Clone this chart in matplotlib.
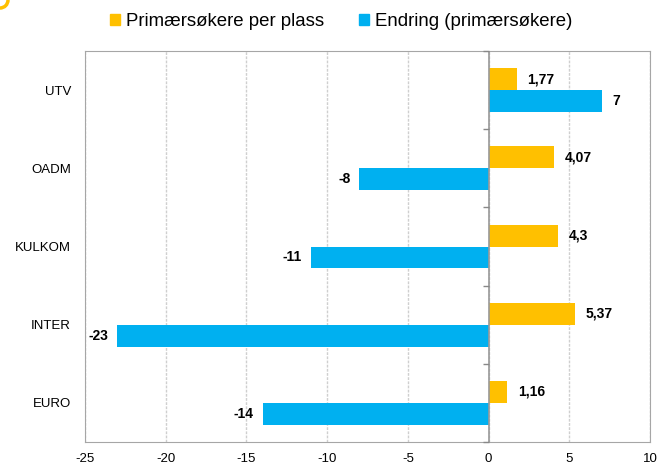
import numpy as np
import matplotlib
matplotlib.use("Agg")
import matplotlib.pyplot as plt
from matplotlib.patches import Circle

plt.rcParams['font.family'] = ['Liberation Sans', 'DejaVu Sans']

# Data (top to bottom)
categories = ["UTV", "OADM", "KULKOM", "INTER", "EURO"]
per_plass = [1.77, 4.07, 4.3, 5.37, 1.16]
endring = [7, -8, -11, -23, -14]
per_plass_labels = ["1,77", "4,07", "4,3", "5,37", "1,16"]
endring_labels = ["7", "-8", "-11", "-23", "-14"]
xticks = [-25, -20, -15, -10, -5, 0, 5, 10]

gold = "#FFC000"
blue = "#00B0F0"

fig = plt.figure(figsize=(6.61, 4.68), dpi=100)
ax = fig.add_axes([85 / 661, 1 - 442 / 468, 565 / 661, 391 / 468])

n = len(categories)
ypos = np.arange(n)[::-1]
h = 0.28

ax.barh(ypos + h / 2, per_plass, height=h, color=gold, zorder=3)
ax.barh(ypos - h / 2, endring, height=h, color=blue, zorder=3)

# Data labels
for y, v, lab in zip(ypos, per_plass, per_plass_labels):
    ax.annotate(lab, (v, y + h / 2), xytext=(7.5, 0), textcoords="offset points",
                ha="left", va="center", fontsize=10, fontweight="bold")
for y, v, lab in zip(ypos, endring, endring_labels):
    if v >= 0:
        ax.annotate(lab, (v, y - h / 2), xytext=(7.5, 0), textcoords="offset points",
                    ha="left", va="center", fontsize=10, fontweight="bold")
    else:
        ax.annotate(lab, (v, y - h / 2), xytext=(-6.5, 0), textcoords="offset points",
                    ha="right", va="center", fontsize=10, fontweight="bold")

ax.set_xlim(-25, 10)
ax.set_ylim(-0.5, n - 0.5)
ax.set_xticks(xticks)
ax.set_xticklabels([str(t) for t in xticks], fontsize=9.5)
ax.set_yticks(ypos)
ax.set_yticklabels(categories, fontsize=9.5)
ax.tick_params(axis="y", length=0, pad=10)
ax.tick_params(axis="x", length=0, pad=8)

ax.grid(axis="x", color="#CFCFCF", linewidth=1, linestyle=(0, (2, 1)), zorder=0)
ax.axvline(0, color="#999999", linewidth=1.2, zorder=4)
for s in ax.spines.values():
    s.set_color("#A6A6A6")

# small ticks on the zero axis between categories
bounds = np.arange(n + 1) - 0.5
ax.plot(np.zeros(len(bounds)), bounds, marker=0, linestyle="none",
        color="#888888", markersize=4, zorder=4, clip_on=False)

# Legend
handles = [plt.Rectangle((0, 0), 1, 1, color=gold), plt.Rectangle((0, 0), 1, 1, color=blue)]
fig.legend(handles, ["Primærsøkere per plass", "Endring (primærsøkere)"],
           loc="center", bbox_to_anchor=(341 / 661, 1 - 22 / 468), ncol=2, frameon=False,
           fontsize=13.4, handlelength=0.54, handleheight=0.54, handletextpad=0.32,
           columnspacing=1.88, borderpad=0)

# partial orange ring at the top left corner
fig.patches.append(Circle((0, 468), 8, transform=None, fill=False,
                          edgecolor=gold, linewidth=2.5))

fig.savefig("out.png", dpi=100)
